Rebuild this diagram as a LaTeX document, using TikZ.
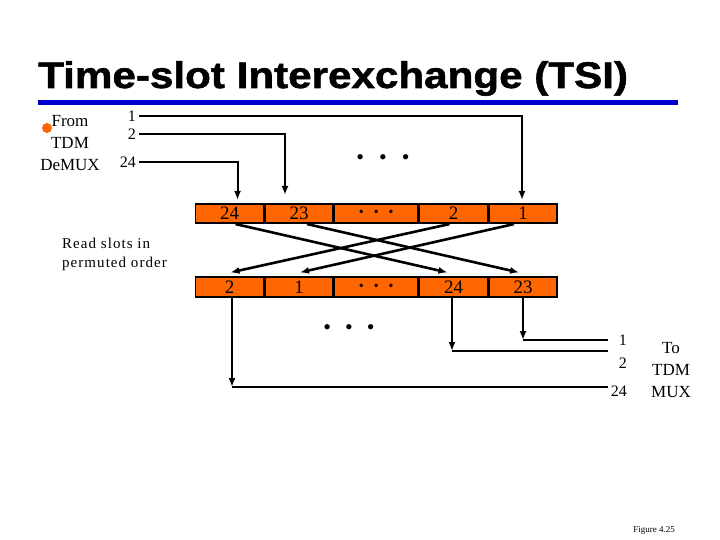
\documentclass[tikz,border=0pt]{standalone}
\usepackage{fontspec}
\setmainfont{Liberation Serif}
\newfontfamily\titlefont[FakeStretch=1.14,FakeBold=1.5]{Liberation Sans}
\newfontfamily\spacedfont[LetterSpace=7]{Liberation Serif}
\usetikzlibrary{arrows.meta, positioning}
\definecolor{slotorange}{RGB}{255,102,0}
\definecolor{barblue}{RGB}{0,0,204}

\begin{document}
\begin{tikzpicture}[
    x=1pt, y=-1pt,
    % Node styles
    slot/.style={
        rectangle, draw, fill=slotorange, line width=1.6pt,
        minimum width=67.9pt, minimum height=19.5pt, inner sep=0pt,
        font=\fontsize{19}{19}\selectfont,
    },
    wide slot/.style={
        slot, minimum width=83.4pt,
    },
    port/.style={
        font=\fontsize{16}{16}\selectfont, inner sep=3pt,
    },
    side label/.style={
        font=\fontsize{17}{22}\selectfont, align=center, inner sep=0pt,
    },
    % Edge styles
    feed/.style={
        line width=2pt, -{Latex[length=9pt,width=7pt]},
    },
    cross/.style={feed, line width=2.6pt},
    wire/.style={line width=2pt},
    node distance=0pt,
]
\useasboundingbox (0,0) rectangle (720,540);

% --- Title ---
\node[anchor=base west, inner sep=0pt,
      font=\titlefont\bfseries\fontsize{37}{37}\selectfont]
      (title) at (38,88) {Time-slot Interexchange (TSI)};
\fill[barblue] (38,100) rectangle (678,105);

% --- Input side ---
\node[side label] (from) at (70,143) {From\\TDM\\DeMUX};
\fill[slotorange] (47,128) circle (5);
\node[port, anchor=east] (in1) at (139,116) {1};
\node[port, anchor=east] (in2) at (139,134) {2};
\node[port, anchor=east] (in24) at (139,162) {24};
\node[font=\fontsize{22}{22}\selectfont] (topdots) at (383,160)
      {\textbullet\hspace{15pt}\textbullet\hspace{15pt}\textbullet};

% --- Slot rows ---
\node[slot] (t24) at (229.5,213.5) {24};
\node[slot, right=of t24] (t23) {23};
\node[wide slot, right=of t23] (tdots)
      {\fontsize{14}{14}\selectfont\textbullet\hspace{10pt}\textbullet\hspace{10pt}\textbullet};
\node[slot, right=of tdots] (t2) {2};
\node[slot, right=of t2] (t1) {1};

\node[slot] (b2) at (229.5,287) {2};
\node[slot, right=of b2] (b1) {1};
\node[wide slot, right=of b1] (bdots)
      {\fontsize{14}{14}\selectfont\textbullet\hspace{10pt}\textbullet\hspace{10pt}\textbullet};
\node[slot, right=of bdots] (b24) {24};
\node[slot, right=of b24] (b23) {23};

\node[anchor=west, align=left, inner sep=0pt,
      font=\spacedfont\fontsize{15}{19}\selectfont]
      (read) at (62,254) {Read slots in\\permuted order};

% feeds into the buffer
\draw[feed] (in1.east) -| ([xshift=-1pt,yshift=3pt]t1.north);
\draw[feed] (in2.east) -| ([xshift=-14pt,yshift=8pt]t23.north);
\draw[feed] (in24.east) -| ([xshift=8pt,yshift=3pt]t24.north);

% permuted read-out
\draw[cross] ([xshift=6pt]t24.south) -- ([xshift=-6pt,yshift=4pt]b24.north);
\draw[cross] ([xshift=8pt]t23.south) -- ([xshift=-4pt,yshift=4pt]b23.north);
\draw[cross] ([xshift=-4pt]t2.south) -- ([xshift=1pt,yshift=4pt]b2.north);
\draw[cross] ([xshift=-9pt]t1.south) -- ([xshift=1pt,yshift=4pt]b1.north);

\node[font=\fontsize{22}{22}\selectfont] (lowdots) at (349,330)
      {\textbullet\hspace{14pt}\textbullet\hspace{14pt}\textbullet};

% --- Output side ---
\node[port, anchor=east] (out1) at (630,340) {1};
\node[port, anchor=east] (out2) at (630,363) {2};
\node[port, anchor=east] (out24) at (630,391) {24};
\node[side label] (to) at (671,370) {To\\TDM\\MUX};

\coordinate (k23) at (523,340);
\coordinate (k24) at (452,351);
\coordinate (k2) at (232,387);
\draw[feed] (b23.south -| k23) -- (k23);
\draw[feed] (b24.south -| k24) -- (k24);
\draw[feed] (b2.south -| k2) -- (k2);
\draw[wire] (k23) -- (k23 -| out24.west);
\draw[wire] (k24) -- (k24 -| out24.west);
\draw[wire] (k2) -- (k2 -| out24.west);

% --- Caption ---
\node[font=\fontsize{9}{9}\selectfont] (fig) at (654,530) {Figure 4.25};
\end{tikzpicture}
\end{document}
